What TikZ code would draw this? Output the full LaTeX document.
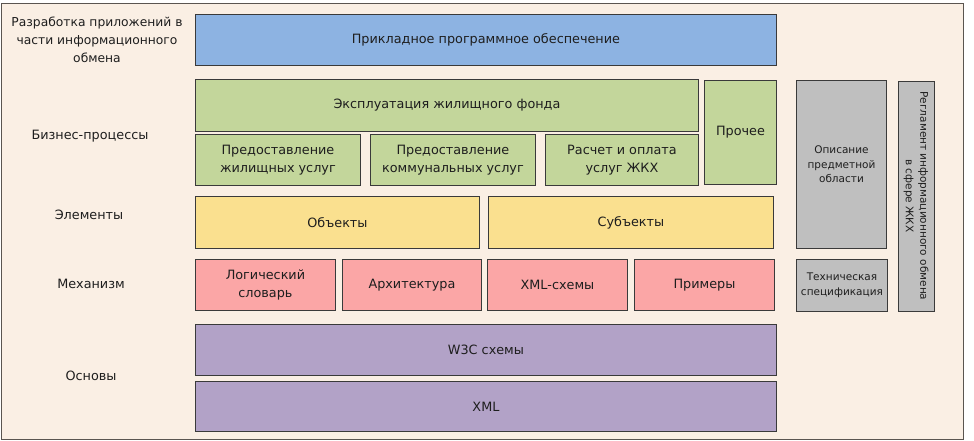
\documentclass[tikz,border=0pt]{standalone}
\usepackage{fontspec}
\setmainfont{DejaVu Sans}
\usetikzlibrary{positioning}
\definecolor{bgbeige}{HTML}{FAEFE4}
\definecolor{framegray}{HTML}{5A5550}
\definecolor{boxline}{HTML}{3A3A3A}
\definecolor{appblue}{HTML}{8DB3E2}
\definecolor{procgreen}{HTML}{C3D69B}
\definecolor{elemyellow}{HTML}{FAE08F}
\definecolor{mechpink}{HTML}{FBA6A6}
\definecolor{basepurple}{HTML}{B2A2C7}
\definecolor{docgray}{HTML}{BFBFBF}
\definecolor{txt}{HTML}{1E1E1E}
\tikzset{
  box/.style={draw=boxline, line width=0.9pt, inner sep=0pt, align=center,
    anchor=north west, text=txt},
  smallbox/.style={box, font=\fontsize{10.5}{14.5}\selectfont},
  layer/.style={align=center, text=txt}
}

\begin{document}
\begin{tikzpicture}[x=1pt, y=-1pt, font=\fontsize{12.8}{18.5}\selectfont]
  \useasboundingbox (0,0) rectangle (974,441);
  \fill[white] (0,0) rectangle (974,441);
  % Fond
  \draw[fill=bgbeige, draw=framegray, line width=1pt] (1,4) rectangle (963,439);
  % Niveaux (gauche)
  \node[layer, font=\fontsize{12.3}{18}\selectfont] (lapp) at (97,40)
    {Разработка приложений в\\части информационного\\обмена};
  \node[layer] (lproc) at (90,136) {Бизнес-процессы};
  \node[layer] (lelem) at (89,215) {Элементы};
  \node[layer] (lmech) at (91,284) {Механизм};
  \node[layer] (lbase) at (91,376) {Основы};
  % Приложения
  \node[box, fill=appblue, minimum width=581, minimum height=51] (app) at (195,14)
    {Прикладное программное обеспечение};
  % Бизнес-процессы
  \node[box, fill=procgreen, minimum width=503, minimum height=52] (expl) at (195,79)
    {Эксплуатация жилищного фонда};
  \node[box, fill=procgreen, minimum width=165, minimum height=51] (housing) at (195,134)
    {Предоставление\\жилищных услуг};
  \node[box, fill=procgreen, minimum width=165, minimum height=51] (communal) at (370,134)
    {Предоставление\\коммунальных услуг};
  \node[box, fill=procgreen, minimum width=153, minimum height=51] (payment) at (545,134)
    {Расчет и оплата\\услуг ЖКХ};
  \node[box, fill=procgreen, minimum width=72, minimum height=104] (other) at (704,80)
    {Прочее};
  % Элементы
  \node[box, fill=elemyellow, minimum width=284, minimum height=52] (objects) at (195,196)
    {Объекты};
  \node[box, fill=elemyellow, minimum width=285, minimum height=52] (subjects) at (488,196)
    {Субъекты};
  % Механизм
  \node[box, fill=mechpink, minimum width=140, minimum height=51] (dict) at (195,259)
    {Логический\\словарь};
  \node[box, fill=mechpink, minimum width=139, minimum height=51] (arch) at (342,259)
    {Архитектура};
  \node[box, fill=mechpink, minimum width=140, minimum height=51] (xsd) at (487,259)
    {XML-схемы};
  \node[box, fill=mechpink, minimum width=140, minimum height=51] (examples) at (634,259)
    {Примеры};
  % Основы
  \node[box, fill=basepurple, minimum width=581, minimum height=51] (w3c) at (195,324)
    {W3C схемы};
  \node[box, fill=basepurple, minimum width=581, minimum height=50] (xml) at (195,381)
    {XML};
  % Документы
  \node[smallbox, fill=docgray, minimum width=90, minimum height=168] (domain) at (796,80)
    {Описание\\предметной\\области};
  \node[smallbox, fill=docgray, minimum width=91, minimum height=52] (techspec) at (796,259)
    {Техническая\\спецификация};
  \node[smallbox, fill=docgray, anchor=center, rotate=-90,
    minimum width=230, minimum height=36] (reglament) at (916,196)
    {Регламент информационного обмена\\в сфере ЖКХ};
\end{tikzpicture}
\end{document}
